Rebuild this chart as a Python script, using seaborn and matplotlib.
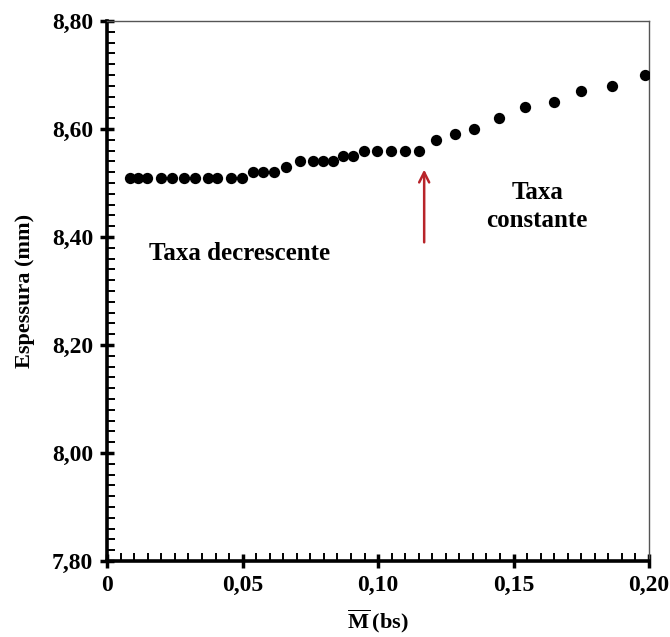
import matplotlib
matplotlib.use("Agg")
import matplotlib.pyplot as plt
import seaborn as sns
import pandas as pd
from matplotlib.ticker import FixedLocator, MultipleLocator, FixedFormatter

# Data
m_bs = [0.0085, 0.0112, 0.0146, 0.0198, 0.0239, 0.0282, 0.0325, 0.0372, 0.0407,
        0.0456, 0.0497, 0.0538, 0.0575, 0.0614, 0.0661, 0.0712, 0.0761, 0.0796,
        0.0835, 0.0870, 0.0909, 0.0948, 0.0997, 0.1047, 0.1100, 0.1151, 0.1214,
        0.1285, 0.1355, 0.1446, 0.1544, 0.1649, 0.1748, 0.1862, 0.1986]
espessura = [8.51, 8.51, 8.51, 8.51, 8.51, 8.51, 8.51, 8.51, 8.51,
             8.51, 8.51, 8.52, 8.52, 8.52, 8.53, 8.54, 8.54, 8.54,
             8.54, 8.55, 8.55, 8.56, 8.56, 8.56, 8.56, 8.56, 8.58,
             8.59, 8.60, 8.62, 8.64, 8.65, 8.67, 8.68, 8.70]

x_ticks = [0.0, 0.05, 0.10, 0.15, 0.20]
x_tick_labels = ["0", "0,05", "0,10", "0,15", "0,20"]
y_ticks = [7.80, 8.00, 8.20, 8.40, 8.60, 8.80]
y_tick_labels = ["7,80", "8,00", "8,20", "8,40", "8,60", "8,80"]

label_decr = "Taxa decrescente"
label_const = "Taxa\nconstante"

sns.set_style("ticks")
plt.rcParams["font.family"] = ["Liberation Serif", "DejaVu Serif"]
plt.rcParams["font.weight"] = "bold"
plt.rcParams["text.color"] = "black"
plt.rcParams["axes.labelcolor"] = "black"
plt.rcParams["mathtext.fontset"] = "custom"
plt.rcParams["mathtext.rm"] = "Liberation Serif:bold"
plt.rcParams["mathtext.bf"] = "Liberation Serif:bold"

df = pd.DataFrame({"M": m_bs, "E": espessura})

fig = plt.figure(figsize=(6.7, 6.37), dpi=100)
ax = fig.add_axes([0.16, 0.1193, 0.8087, 0.8477])

sns.scatterplot(data=df, x="M", y="E", ax=ax, color="black", s=66,
                edgecolor="black", linewidth=0, zorder=3)

ax.set_xlim(0, 0.20)
ax.set_ylim(7.80, 8.80)

ax.xaxis.set_major_locator(FixedLocator(x_ticks))
ax.xaxis.set_major_formatter(FixedFormatter(x_tick_labels))
ax.yaxis.set_major_locator(FixedLocator(y_ticks))
ax.yaxis.set_major_formatter(FixedFormatter(y_tick_labels))
ax.xaxis.set_minor_locator(MultipleLocator(0.005))
ax.yaxis.set_minor_locator(MultipleLocator(0.02))

ax.tick_params(axis="both", which="major", direction="inout", length=10,
               width=2.5, labelsize=17, colors="black", pad=5)
ax.tick_params(axis="both", which="minor", direction="in", length=6,
               width=1.4, colors="black")
ax.tick_params(top=False, right=False, which="both")

for side in ["left", "bottom"]:
    ax.spines[side].set_linewidth(2.6)
    ax.spines[side].set_color("black")
for side in ["top", "right"]:
    ax.spines[side].set_linewidth(1.0)
    ax.spines[side].set_color("#555555")
    ax.spines[side].set_visible(True)

for lbl in ax.get_xticklabels() + ax.get_yticklabels():
    lbl.set_fontweight("bold")
    lbl.set_color("black")

ax.set_xlabel(r"$\overline{\mathrm{M}}\,$(bs)", fontsize=16, fontweight="bold",
              labelpad=8, color="black")
ax.set_ylabel("Espessura (mm)", fontsize=16, fontweight="bold", labelpad=12,
              color="black")

ax.text(0.049, 8.370, label_decr, ha="center", va="center", fontsize=18,
        fontweight="bold", color="black")
ax.text(0.1587, 8.456, label_const, ha="center", va="center", fontsize=18,
        fontweight="bold", linespacing=1.3, color="black")

ax.annotate("", xy=(0.117, 8.53), xytext=(0.117, 8.385),
            arrowprops=dict(arrowstyle="->", color="#b8242a", lw=1.8,
                            mutation_scale=18))

fig.savefig("out.png", dpi=100)
